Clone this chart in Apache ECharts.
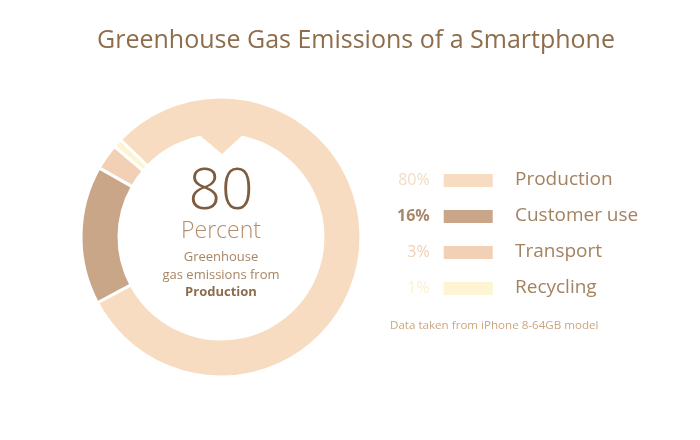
<!DOCTYPE html>
<html><head><meta charset="utf-8">
<script src="https://cdn.jsdelivr.net/npm/echarts@6/dist/echarts.min.js"></script>
<style>html,body{margin:0;padding:0;background:#fff}#c{width:700px;height:440px}</style>
</head><body><div id="c"></div>
<script>
const categories = ['Production', 'Customer use', 'Transport', 'Recycling'];
const values = [80, 16, 3, 1];
const percentLabels = ['80%', '16%', '3%', '1%'];
const colors = ['#f8dcc2', '#c9a688', '#f1d0b5', '#fdf4d4'];
const percentColors = ['#f3dcc4', '#a8876a', '#ecd0b6', '#fbf0d4'];

const cx = 221, cy = 237, rOut = 140, rIn = 102;

const chart = echarts.init(document.getElementById('c'), null, {renderer: 'canvas'});
const rich = {};
percentLabels.forEach((p, i) => {
  rich['p' + i] = {color: percentColors[i], fontSize: 16, fontFamily: 'Open Sans', fontWeight: i === 1 ? 'bold' : 'normal', letterSpacing: 2};
});
const data = categories.map((n, i) => ({name: n, value: values[i], itemStyle: {color: colors[i]}}));

chart.setOption({
  animation: false,
  title: {
    text: 'Greenhouse Gas Emissions of a Smartphone',
    left: 92, top: 23,
    textStyle: {fontFamily: 'Open Sans', fontSize: 25, fontWeight: 'normal', color: '#8e6d4b'}
  },
  legend: [{
    orient: 'vertical', left: 392, top: 167, itemGap: 19,
    align: 'right', icon: 'rect', itemWidth: 51, itemHeight: 15,
    data: categories,
    formatter: name => { const i = categories.indexOf(name); return '{p' + i + '|' + percentLabels[i] + '}'; },
    textStyle: {rich: rich, width: 42, align: 'right', padding: [0, 8, 0, 0]},
    selectedMode: false
  }, {
    orient: 'vertical', left: 504, top: 164, itemGap: 15,
    icon: 'rect', itemWidth: 0, itemHeight: 19,
    data: categories,
    textStyle: {fontFamily: 'Open Sans', fontSize: 19, color: '#a38260', letterSpacing: 1.2},
    selectedMode: false
  }],
  graphic: [
    {type: 'polygon', z: 10, shape: {points: [[cx - 24, cy - rIn - 2], [cx + 24, cy - rIn - 2], [cx + 1, cy - rIn + 19]]}, style: {fill: colors[0]}},
    {type: 'text', left: 390, top: 320, style: {text: 'Data taken from iPhone 8-64GB model', fontFamily: 'Open Sans', fontSize: 11.6, fill: '#cca67f'}},
    {type: 'text', x: cx, y: 193, style: {text: '80', fontFamily: 'Open Sans', fontSize: 57, fontWeight: 300, fill: '#7d5c40', align: 'center', verticalAlign: 'middle'}},
    {type: 'text', x: cx, y: 231, style: {text: 'Percent', fontFamily: 'Open Sans', fontSize: 23, fontWeight: 300, fill: '#b38d6b', align: 'center', verticalAlign: 'middle'}},
    {type: 'text', x: cx, y: 257, style: {text: 'Greenhouse', fontFamily: 'Open Sans', fontSize: 13, fill: '#a88563', align: 'center', verticalAlign: 'middle'}},
    {type: 'text', x: cx, y: 275, style: {text: 'gas emissions from', fontFamily: 'Open Sans', fontSize: 13, fill: '#a88563', align: 'center', verticalAlign: 'middle'}},
    {type: 'text', x: cx, y: 292, style: {text: 'Production', fontFamily: 'Open Sans', fontSize: 13, fontWeight: 'bold', fill: '#8e6c4c', align: 'center', verticalAlign: 'middle'}}
  ],
  series: [{
    type: 'pie',
    center: [cx, cy],
    radius: [rIn, rOut],
    startAngle: 136,
    clockwise: true,
    label: {show: false},
    labelLine: {show: false},
    emphasis: {disabled: true},
    itemStyle: {borderColor: '#fff', borderWidth: 3},
    data: data
  }]
});
</script></body></html>
